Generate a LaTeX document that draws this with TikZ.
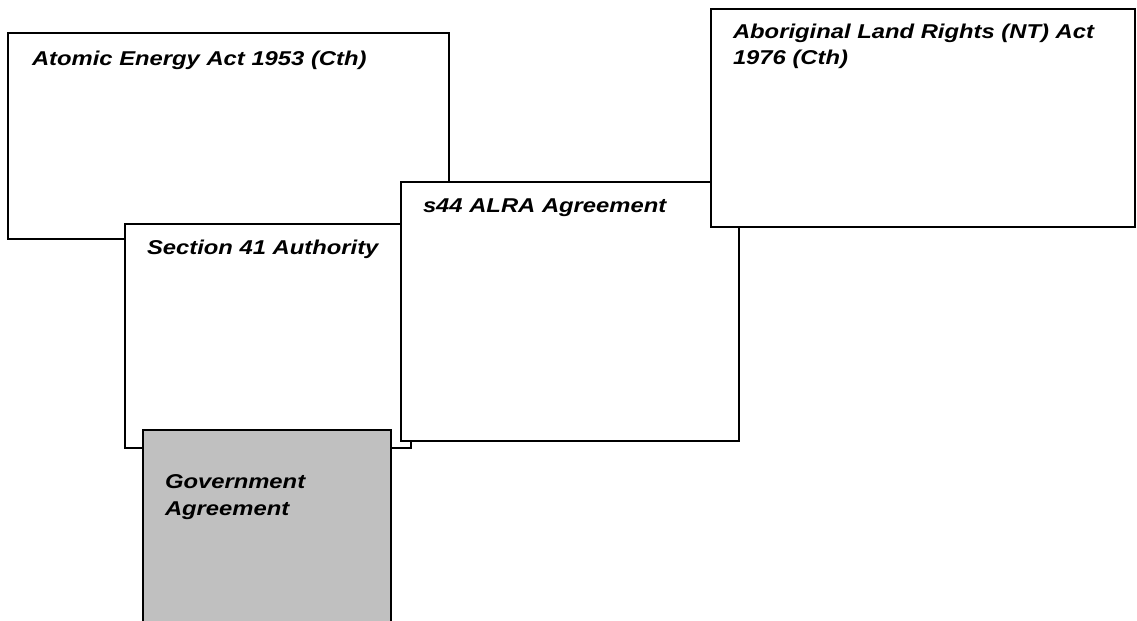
\documentclass[tikz,border=0pt]{standalone}
\usepackage{fontspec}
\setmainfont{Liberation Sans}
\begin{document}
\begin{tikzpicture}[x=1bp,y=-1bp,
  panel/.style={draw=black,line width=1.6bp,fill=white,inner sep=0pt,outer sep=0pt,anchor=north west},
  govpanel/.style={panel,fill=grayfill},
  label/.style={inner sep=0pt,outer sep=0pt,anchor=base west,align=left,
    font=\fontsize{20bp}{26.5bp}\selectfont\bfseries\itshape}]
\definecolor{grayfill}{HTML}{C0C0C0}
\useasboundingbox (0,0) rectangle (1137,621);
\clip (0,0) rectangle (1137,621);
% boxes, back to front
\node[panel,minimum width=441bp,minimum height=206bp] (atomic) at (8,33) {};
\node[panel,minimum width=286bp,minimum height=224bp] (sec41) at (125,224) {};
\node[panel,minimum width=338bp,minimum height=259bp] (s44) at (401,182) {};
\node[panel,minimum width=424bp,minimum height=218bp] (alra) at (711,9) {};
\node[govpanel,minimum width=248bp,minimum height=200bp] (gov) at (143,430) {};
% labels
\node[label] (atomicT) at (32,66) {\scalebox{1.19}[1]{Atomic Energy Act 1953 (Cth)}};
\node[label] (sec41T) at (147,255) {\scalebox{1.19}[1]{Section 41 Authority}};
\node[label] (s44T) at (423,213) {\scalebox{1.19}[1]{s44 ALRA Agreement}};
\node[label] (alraT1) at (733,39) {\scalebox{1.19}[1]{Aboriginal Land Rights (NT) Act}};
\node[label] (alraT2) at (733,65) {\scalebox{1.19}[1]{1976 (Cth)}};
\node[label] (govT1) at (165,488) {\scalebox{1.19}[1]{Government}};
\node[label] (govT2) at (165,515) {\scalebox{1.19}[1]{Agreement}};
\end{tikzpicture}
\end{document}
